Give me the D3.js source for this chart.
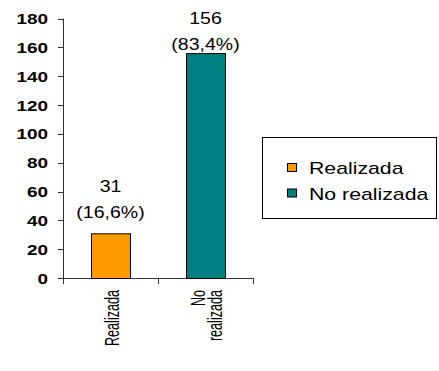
<!DOCTYPE html>
<html>
<head>
<meta charset="utf-8">
<script src="https://cdn.jsdelivr.net/npm/d3@7"></script>
<style>
  html, body { margin: 0; padding: 0; background: #fff; }
  svg { display: block; }
  text { font-family: "Liberation Sans", Arial, sans-serif; fill: #000; }
</style>
</head>
<body>
<svg id="chart" width="439" height="371"></svg>
<script>
// Chart data
const categories = ["Realizada", "No realizada"];
const axisLabels = [["Realizada"], ["No", "realizada"]];
const values = [31, 156];
const percentLabels = ["(16,6%)", "(83,4%)"];
const colors = ["#FF9900", "#008080"];
const yTicks = [0, 20, 40, 60, 80, 100, 120, 140, 160, 180];

const svg = d3.select("#chart");
const SX = 1.22; // horizontal text stretch

const plot = { left: 63, right: 253, top: 18.5, bottom: 278 };

const x = d3.scaleBand()
  .domain(categories)
  .range([plot.left, plot.right])
  .paddingInner(0.59)
  .paddingOuter(0.295);

const y = d3.scaleLinear()
  .domain([0, 180])
  .range([plot.bottom, plot.top]);

// Y axis
const yAxis = svg.append("g");
yAxis.append("line")
  .attr("x1", plot.left + 0.5).attr("x2", plot.left + 0.5)
  .attr("y1", y(180)).attr("y2", y(0))
  .attr("stroke", "#333").attr("stroke-width", 1);
yAxis.selectAll("line.tick").data(yTicks).join("line")
  .attr("class", "tick")
  .attr("x1", plot.left - 5).attr("x2", plot.left + 0.5)
  .attr("y1", d => Math.round(y(d)) + 0.5).attr("y2", d => Math.round(y(d)) + 0.5)
  .attr("stroke", "#333");
yAxis.selectAll("text").data(yTicks).join("text")
  .attr("transform", d => `translate(48,${y(d)}) scale(${SX},1)`)
  .attr("text-anchor", "end")
  .attr("dy", "0.36em")
  .attr("font-size", 15.5)
  .attr("font-weight", "bold")
  .text(d => d);

// X axis
const xAxis = svg.append("g");
xAxis.append("line")
  .attr("x1", plot.left).attr("x2", plot.right)
  .attr("y1", plot.bottom + 0.5).attr("y2", plot.bottom + 0.5)
  .attr("stroke", "#333");
const bounds = [plot.left, ...categories.map(c => x(c) + x.bandwidth() / 2 + x.step() / 2)];
xAxis.selectAll("line.tick").data(bounds).join("line")
  .attr("class", "tick")
  .attr("x1", d => Math.round(d) + 0.5).attr("x2", d => Math.round(d) + 0.5)
  .attr("y1", plot.bottom).attr("y2", plot.bottom + 6)
  .attr("stroke", "#333");

// Category labels, rotated
categories.forEach((c, i) => {
  const lines = axisLabels[i];
  const cx = x(c) + x.bandwidth() / 2;
  const gap = 17;
  lines.forEach((t, j) => {
    const lx = cx + 1 + (j - (lines.length - 1) / 2) * gap;
    svg.append("text")
      .attr("transform", `translate(${lx},290) scale(1.55,1) rotate(-90)`)
      .attr("text-anchor", "end")
      .attr("dy", "0.36em")
      .attr("font-size", 12.6)
      .text(t);
  });
});

// Bars
svg.selectAll("rect.bar").data(values).join("rect")
  .attr("class", "bar")
  .attr("x", (d, i) => x(categories[i]) + 0.5)
  .attr("y", d => y(d) + 0.5)
  .attr("width", x.bandwidth())
  .attr("height", d => y(0) - y(d))
  .attr("fill", (d, i) => colors[i])
  .attr("stroke", "#000")
  .attr("stroke-width", 1);

// Value labels
const labelLift = [21, 9];
values.forEach((v, i) => {
  const cx = x(categories[i]) + x.bandwidth() / 2;
  const base = y(v) - labelLift[i];
  [String(v), percentLabels[i]].forEach((t, j) => {
    svg.append("text")
      .attr("transform", `translate(${cx},${base - (1 - j) * 26}) scale(${SX},1)`)
      .attr("text-anchor", "middle")
      .attr("dy", "0.36em")
      .attr("font-size", 16)
      .text(t);
  });
});

// Legend
const legend = svg.append("g");
legend.append("rect")
  .attr("x", 262.5).attr("y", 137.5)
  .attr("width", 174).attr("height", 81)
  .attr("fill", "#fff").attr("stroke", "#000");
categories.forEach((c, i) => {
  const ly = 168 + i * 25.5;
  legend.append("rect")
    .attr("x", 287.5).attr("y", ly - 4.5)
    .attr("width", 9).attr("height", 8)
    .attr("fill", colors[i]).attr("stroke", "#000");
  legend.append("text")
    .attr("transform", `translate(309,${ly}) scale(1.25,1)`)
    .attr("dy", "0.36em")
    .attr("font-size", 17)
    .text(c);
});
</script>
</body>
</html>
